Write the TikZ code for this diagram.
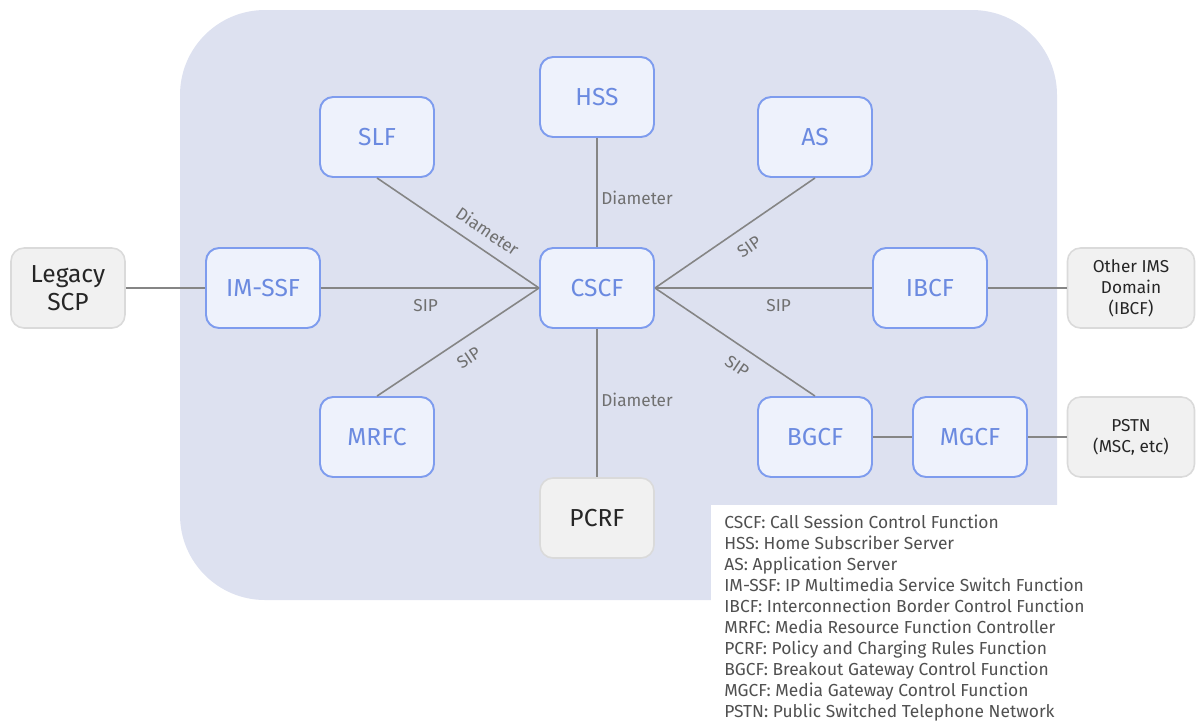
\documentclass[tikz,border=0pt]{standalone}
\usepackage{fontspec}
\setmainfont{Fira Sans}
\usepackage{tikz}
\definecolor{imsbg}{HTML}{DDE1F0}
\definecolor{funcline}{HTML}{7E9CEE}
\definecolor{funcfill}{HTML}{EEF2FC}
\definecolor{functext}{HTML}{6B8AE0}
\definecolor{extfill}{HTML}{F1F1F1}
\definecolor{extline}{HTML}{DADADA}
\definecolor{linkgray}{HTML}{858585}
\definecolor{labgray}{HTML}{707070}
\definecolor{legtext}{HTML}{505050}

\begin{document}
\begin{tikzpicture}[x=0.02cm, y=-0.02cm,
  func/.style={draw=funcline, line width=1.1pt, fill=funcfill, text=functext, rounded corners=0.26cm,
    minimum width=2.28cm, minimum height=1.6cm, font=\fontsize{14}{16}\selectfont},
  ext/.style={draw=extline, line width=0.9pt, fill=extfill, text=black!85, rounded corners=0.26cm,
    minimum width=2.28cm, minimum height=1.6cm, align=center, font=\fontsize{14}{16}\selectfont},
  extsmall/.style={ext, minimum width=2.54cm, font=\fontsize{9.8}{12}\selectfont},
  link/.style={draw=linkgray, line width=0.9pt},
  lab/.style={text=labgray, font=\fontsize{9.8}{11}\selectfont, inner sep=2pt}]
\useasboundingbox (0,0) rectangle (1196,725);
% IMS domain
\fill [imsbg, rounded corners=1.7cm] (180,10) rectangle (1057,600);
\fill [white] (711,505) rectangle (1196,725);
% functions
\node [func] (hss) at (597,97) {HSS};
\node [func] (slf) at (377,137) {SLF};
\node [func] (as) at (815,137) {AS};
\node [func] (imssf) at (263,288) {IM-SSF};
\node [func] (cscf) at (597,288) {CSCF};
\node [func] (ibcf) at (930,288) {IBCF};
\node [func] (mrfc) at (377,437) {MRFC};
\node [func] (bgcf) at (815,437) {BGCF};
\node [func] (mgcf) at (970,437) {MGCF};
\node [ext] (pcrf) at (597,518) {PCRF};
% outside
\node [ext] (scp) at (68,288) {Legacy\\SCP};
\node [extsmall] (other) at (1131,288) {Other IMS\\Domain\\(IBCF)};
\node [extsmall] (pstn) at (1131,437) {PSTN\\(MSC, etc)};
% links
\draw [link] (slf.south) -- node [lab, sloped, above=4pt, pos=0.62] {Diameter} (cscf.west);
\draw [link] (hss.south) -- node [lab, right, pos=0.55] {Diameter} (cscf.north);
\draw [link] (imssf.east) -- node [lab, below=4pt, pos=0.48] {SIP} (cscf.west);
\draw [link] (mrfc.north) -- node [lab, sloped, below=5pt, pos=0.5] {SIP} (cscf.west);
\draw [link] (cscf.east) -- node [lab, sloped, below=5pt, pos=0.52] {SIP} (as.south);
\draw [link] (cscf.east) -- node [lab, below=4pt, pos=0.57] {SIP} (ibcf.west);
\draw [link] (cscf.east) -- node [lab, sloped, below=5pt, pos=0.58] {SIP} (bgcf.north);
\draw [link] (cscf.south) -- node [lab, right, pos=0.48] {Diameter} (pcrf.north);
\draw [link] (scp.east) -- (imssf.west);
\draw [link] (ibcf.east) -- (other.west);
\draw [link] (bgcf.east) -- (mgcf.west);
\draw [link] (mgcf.east) -- (pstn.west);
% legend
\node [anchor=north west, align=left, inner sep=0pt, text=legtext, font=\fontsize{9.9}{11.9}\selectfont] (legend) at (724,515) {%
CSCF: Call Session Control Function\\
HSS: Home Subscriber Server\\
AS: Application Server\\
IM-SSF: IP Multimedia Service Switch Function\\
IBCF: Interconnection Border Control Function\\
MRFC: Media Resource Function Controller\\
PCRF: Policy and Charging Rules Function\\
BGCF: Breakout Gateway Control Function\\
MGCF: Media Gateway Control Function\\
PSTN: Public Switched Telephone Network};
\end{tikzpicture}
\end{document}
